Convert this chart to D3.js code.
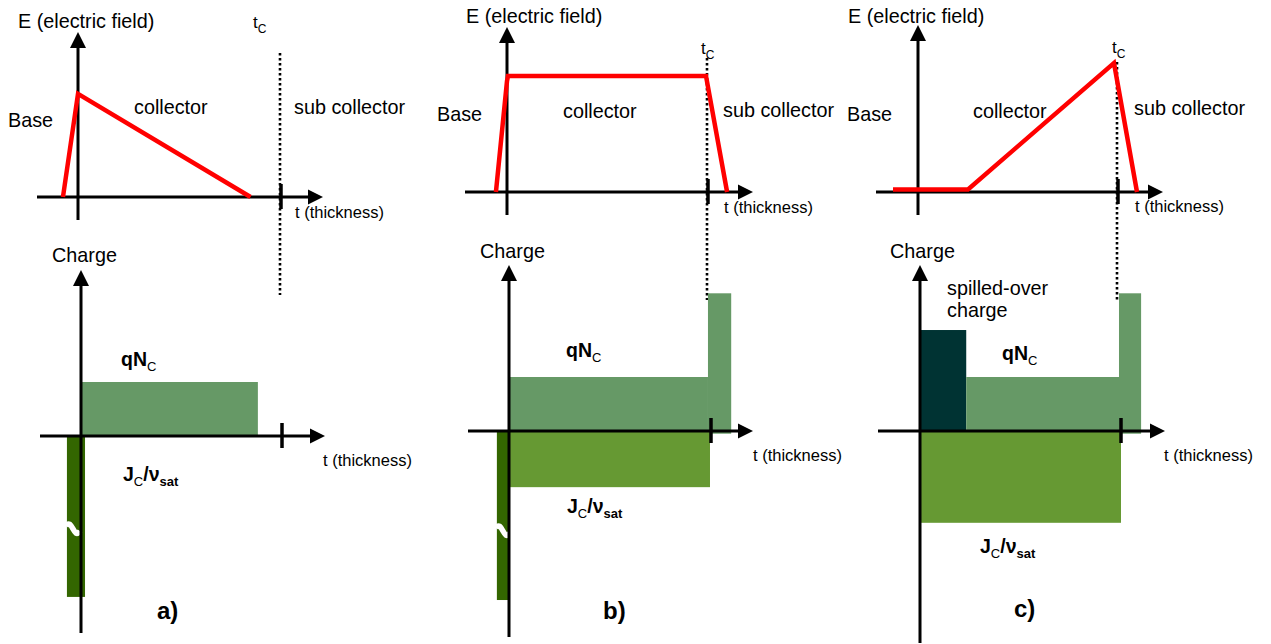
<!DOCTYPE html>
<html>
<head>
<meta charset="utf-8">
<script src="https://cdn.jsdelivr.net/npm/d3@7"></script>
<style>
  html, body { margin: 0; padding: 0; background: #fff; }
  svg { display: block; }
  text { font-family: "Liberation Sans", Arial, sans-serif; fill: #000; }
</style>
</head>
<body>
<svg id="chart" width="1271" height="644" viewBox="0 0 1271 644"></svg>
<script>
/* ── data (t in units of t_c, E and charge in relative units) ───────────── */

const PANELS = ["a)", "b)", "c)"];

// electric field profile E(t) for each case
const fieldT = [
  [-0.074, 0, 0.85],
  [-0.055, 0, 0.005, 0.99, 1.095],
  [-0.125, 0.25, 0.98, 1.095],
];
const fieldE = [
  [0, 0.8, 0],
  [0, 0.86, 0.9, 0.9, 0],
  [0.02, 0.02, 1.0, 0],
];

// charge blocks: [t0, t1, q0, q1, kind]
const chargeA = [
  [0, 0.88, 0, 1, "donor"],
  [-0.07, 0.02, -2.98, 0, "base"],
];
const chargeB = [
  [0, 0.985, 0, 1, "donor"],
  [0.985, 1.1, -0.05, 2.55, "donor"],
  [0, 0.995, -1.04, 0, "electron"],
  [-0.06, 0, -3.13, 0, "base"],
];
const chargeC = [
  [0, 0.23, 0, 1.87, "spill"],
  [0.23, 0.99, 0, 1, "donor"],
  [0.99, 1.1, -0.05, 2.55, "donor"],
  [0, 1.0, -1.7, 0, "electron"],
];
const charges = [chargeA, chargeB, chargeC];

// axis-break mark on the base charge bar: [t, q] or null
const breakMark = [[-0.07, -1.74], [-0.06, -1.87], null];

/* ── layout & style ───────────────────────────────────────────────────────── */

const COLORS = {
  donor: "#669966",
  electron: "#669933",
  base: "#336600",
  spill: "#003333",
  field: "#ff0000",
};

const E_PX = 129;  // pixels per unit field
const Q_PX = 54;   // pixels per unit charge

const layout = [
  { top: { x0: 78, y0: 197, left: 37, right: 323, tip: 32, bottom: 220, tc: 281 },
    bot: { x0: 81, y0: 436, left: 40, right: 325, tip: 270, bottom: 633, tc: 282 },
    dots: [53, 295] },
  { top: { x0: 507, y0: 192, left: 465, right: 753, tip: 27, bottom: 215, tc: 708 },
    bot: { x0: 509, y0: 431, left: 468, right: 753, tip: 265, bottom: 637, tc: 711 },
    dots: [58, 300] },
  { top: { x0: 918, y0: 192, left: 876, right: 1163, tip: 25, bottom: 215, tc: 1118 },
    bot: { x0: 920, y0: 431, left: 878, right: 1165, tip: 265, bottom: 643, tc: 1121 },
    dots: [62, 300] },
];

// label anchors per panel (baseline positions)
const labelPos = [
  { E: [18, 28], tc: [253, 28], base: [8, 127], coll: [134, 114], sub: [294, 114],
    tTop: [295, 218], charge: [52, 262], qn: [121, 366], jv: [123, 481],
    tBot: [323, 466], tag: [157, 619] },
  { E: [466, 23], tc: [701, 54], base: [437, 121], coll: [563, 118], sub: [723, 117],
    tTop: [724, 213], charge: [480, 258], qn: [566, 357], jv: [567, 513],
    tBot: [753, 461], tag: [603, 619] },
  { E: [848, 23], tc: [1112, 53], base: [847, 121], coll: [973, 118], sub: [1134, 115],
    tTop: [1135, 212], charge: [890, 258], qn: [1002, 360], jv: [980, 553],
    tBot: [1164, 461], tag: [1014, 617], spill: [947, 295] },
];

const svg = d3.select("#chart");
const AX_W = 3;
const ARROW = 15;

/* ── helpers ──────────────────────────────────────────────────────────────── */

function arrowAxes(g, a) {
  // horizontal axis with arrow head
  g.append("line")
    .attr("x1", a.left).attr("x2", a.right - ARROW + 1)
    .attr("y1", a.y0).attr("y2", a.y0)
    .attr("stroke", "#000").attr("stroke-width", AX_W);
  g.append("path")
    .attr("d", `M${a.right},${a.y0} L${a.right - ARROW},${a.y0 - 7.5} L${a.right - ARROW},${a.y0 + 7.5} Z`)
    .attr("fill", "#000");
  // vertical axis with arrow head
  g.append("line")
    .attr("x1", a.x0).attr("x2", a.x0)
    .attr("y1", a.bottom).attr("y2", a.tip + ARROW - 1)
    .attr("stroke", "#000").attr("stroke-width", AX_W);
  g.append("path")
    .attr("d", `M${a.x0},${a.tip} L${a.x0 - 8},${a.tip + ARROW + 1} L${a.x0 + 8},${a.tip + ARROW + 1} Z`)
    .attr("fill", "#000");
  // t_c tick
  g.append("line")
    .attr("x1", a.tc).attr("x2", a.tc)
    .attr("y1", a.y0 - 13).attr("y2", a.y0 + 12)
    .attr("stroke", "#000").attr("stroke-width", 3.5);
}

function label(x, y, parts, size = 19.5, bold = false) {
  const t = svg.append("text")
    .attr("x", x).attr("y", y)
    .attr("font-size", size)
    .attr("font-weight", bold ? "bold" : "normal");
  let shifted = false;
  parts.forEach((p) => {
    const s = typeof p === "string" ? { text: p } : p;
    const ts = t.append("tspan").text(s.text);
    if (s.sub && !shifted) { ts.attr("dy", 5); shifted = true; }
    if (!s.sub && shifted) { ts.attr("dy", -5); shifted = false; }
    if (s.sub) ts.attr("font-size", s.size || 13);
    if (s.weight) ts.attr("font-weight", s.weight);
  });
  return t;
}

/* ── draw each case ───────────────────────────────────────────────────────── */

PANELS.forEach((tag, i) => {
  const L = layout[i];
  const g = svg.append("g");

  const xTop = d3.scaleLinear().domain([0, 1]).range([L.top.x0, L.top.tc]);
  const yTop = d3.scaleLinear().domain([0, 1]).range([L.top.y0, L.top.y0 - E_PX]);
  const xBot = d3.scaleLinear().domain([0, 1]).range([L.bot.x0, L.bot.tc]);
  const yBot = d3.scaleLinear().domain([0, 1]).range([L.bot.y0, L.bot.y0 - Q_PX]);

  // dotted t_c guide
  g.append("line")
    .attr("x1", xTop(1) - 1).attr("x2", xTop(1) - 1)
    .attr("y1", L.dots[0]).attr("y2", L.dots[1])
    .attr("stroke", "#000").attr("stroke-width", 2.6)
    .attr("stroke-dasharray", "2.4 2.6");

  // charge blocks
  g.selectAll("rect.charge")
    .data(charges[i])
    .join("rect")
    .attr("class", "charge")
    .attr("x", (d) => xBot(d[0]))
    .attr("width", (d) => xBot(d[1]) - xBot(d[0]))
    .attr("y", (d) => yBot(d[3]))
    .attr("height", (d) => yBot(d[2]) - yBot(d[3]))
    .attr("fill", (d) => COLORS[d[4]]);

  // break mark on the tall base bar
  if (breakMark[i]) {
    const bx = xBot(breakMark[i][0]);
    const by = yBot(breakMark[i][1]);
    g.append("path")
      .attr("d", `M${bx - 1},${by - 4} C${bx + 5},${by - 13} ${bx + 7},${by + 11} ${bx + 13},${by + 1}`)
      .attr("fill", "none").attr("stroke", "#fff").attr("stroke-width", 5.5);
  }

  arrowAxes(g, L.top);
  arrowAxes(g, L.bot);

  // field profile
  const pts = fieldT[i].map((t, k) => [t, fieldE[i][k]]);
  g.append("path")
    .datum(pts)
    .attr("d", d3.line().x((d) => xTop(d[0])).y((d) => yTop(d[1])))
    .attr("fill", "none")
    .attr("stroke", COLORS.field)
    .attr("stroke-width", 4.5)
    .attr("stroke-linejoin", "miter");

  // labels
  const P = labelPos[i];
  label(P.E[0], P.E[1], ["E (electric field)"], 19.8);
  label(P.tc[0], P.tc[1], ["t", { text: "C", sub: true, size: 12 }], 17);
  label(P.base[0], P.base[1], ["Base"], 19.8);
  label(P.coll[0], P.coll[1], ["collector"], 19.8);
  label(P.sub[0], P.sub[1], ["sub collector"], 19.8);
  label(P.tTop[0], P.tTop[1], ["t (thickness)"], 16.5);
  label(P.charge[0], P.charge[1], ["Charge"], 19.8);
  label(P.qn[0], P.qn[1], ["qN", { text: "C", sub: true, weight: "normal" }], 19.5, true);
  label(P.jv[0], P.jv[1], ["J", { text: "C", sub: true, weight: "normal" }, "/ν", { text: "sat", sub: true }], 19.5, true);
  label(P.tBot[0], P.tBot[1], ["t (thickness)"], 16.5);
  label(P.tag[0], P.tag[1], [tag], 24, true);
  if (P.spill) {
    label(P.spill[0], P.spill[1], ["spilled-over"], 19.8);
    label(P.spill[0], P.spill[1] + 22, ["charge"], 19.8);
  }
});
</script>
</body>
</html>
